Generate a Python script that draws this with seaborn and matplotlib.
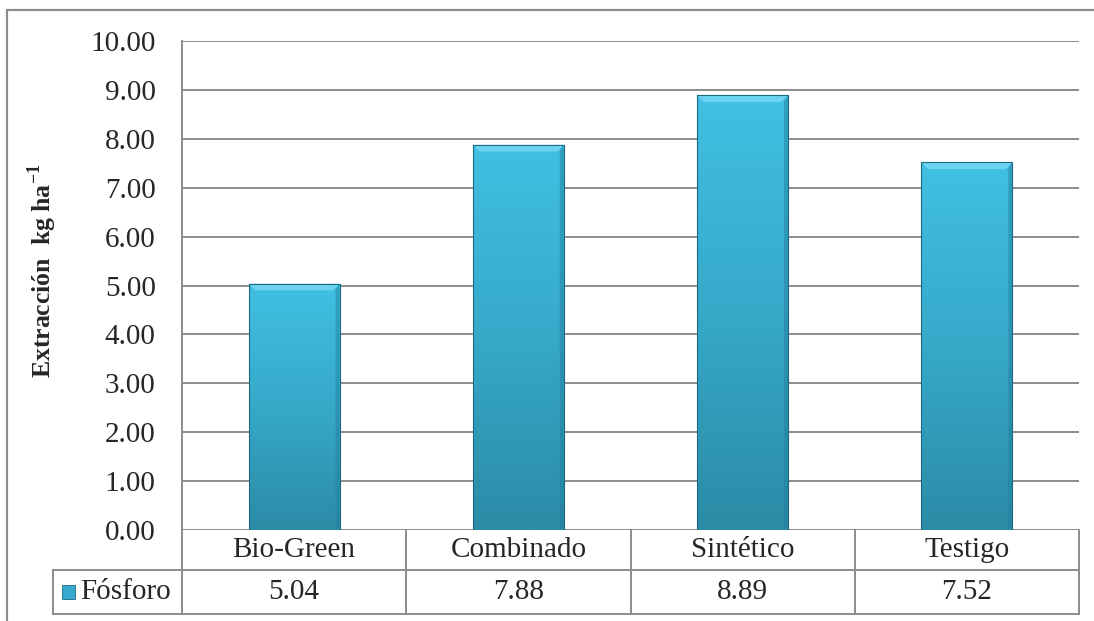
import numpy as np
import matplotlib
matplotlib.use("Agg")
import matplotlib.pyplot as plt
import matplotlib.transforms as mtransforms
from matplotlib.patches import Polygon, Rectangle
from matplotlib.colors import LinearSegmentedColormap
import seaborn as sns
import pandas as pd

# datos del grafico
categorias = ["Bio-Green", "Combinado", "Sintético", "Testigo"]
fosforo = [5.04, 7.88, 8.89, 7.52]
serie = "Fósforo"
y_ticks = [0, 1, 2, 3, 4, 5, 6, 7, 8, 9, 10]

sns.set_style("white")
plt.rcParams['font.family'] = ['Liberation Serif', 'DejaVu Serif']
plt.rcParams['mathtext.fontset'] = 'custom'
plt.rcParams['mathtext.rm'] = 'Liberation Serif'
plt.rcParams['mathtext.bf'] = 'Liberation Serif:bold'

GRIS = "#8c8c8c"
FS = 21

df = pd.DataFrame({"categoria": categorias, "valor": fosforo})

fig = plt.figure(figsize=(10.94, 6.21), dpi=100)
ax = fig.add_axes([182 / 1094, 1 - 530 / 621, (1079 - 182) / 1094, (530 - 41) / 621])

sns.barplot(data=df, x="categoria", y="valor", ax=ax, width=0.405,
            color="#3bb8da", edgecolor="#1d6a80", linewidth=0.8, zorder=3)

# degradado en las barras (estilo Excel)
cmap = LinearSegmentedColormap.from_list("barra", ["#2b8ba6", "#36a9c9", "#41c0e3"])
grad = np.linspace(0, 1, 256).reshape(-1, 1)
for p in ax.patches:
    x0, w, h = p.get_x(), p.get_width(), p.get_height()
    im = ax.imshow(grad, cmap=cmap, origin="lower", aspect="auto",
                   extent=[x0, x0 + w, 0, h], zorder=3.5)
    im.set_clip_path(p)
    # bisel superior
    dx, dy = 0.03, 0.14
    ax.add_patch(Polygon([[x0, h], [x0 + w, h], [x0 + w - dx, h - dy], [x0 + dx, h - dy]],
                         closed=True, facecolor="#7fdcf6", edgecolor="none", alpha=0.7, zorder=4))
    # borde derecho mas oscuro
    ax.add_patch(Polygon([[x0 + w, h], [x0 + w, 0], [x0 + w - dx * 0.6, dy * 0.5], [x0 + w - dx * 0.6, h - dy]],
                         closed=True, facecolor="#2580a0", edgecolor="none", alpha=0.5, zorder=4))
    p.set_facecolor("none")
    p.set_zorder(5)

ax.set_xlim(-0.5, 3.5)
ax.set_ylim(0, 10)
ax.set_yticks(y_ticks)
ax.set_yticklabels([f"{v:.2f}" for v in y_ticks], fontsize=FS)
ax.set_xticks([])
ax.set_xlabel("")
ax.tick_params(axis="y", length=0, pad=19)
ax.grid(axis="y", color=GRIS, linewidth=1.4, zorder=0)
ax.set_axisbelow(True)
for s in ["top", "right", "bottom"]:
    ax.spines[s].set_visible(False)
ax.spines["left"].set_color(GRIS)
ax.spines["left"].set_linewidth(1.4)

ax.set_ylabel("Extracción  kg ha$^{\\mathbf{-1}}$", fontsize=18.5, fontweight="bold")
ax.yaxis.set_label_coords(-0.137, 0.53)

# tabla de datos bajo el eje
tr = mtransforms.blended_transform_factory(ax.transData, ax.transAxes)
y_cat = -40 / 489
y_dat = -84 / 489
x_ley = (53 - 182) / 897
lk = dict(color=GRIS, linewidth=1.4, clip_on=False, zorder=1)
ax.plot([x_ley, 1], [y_cat, y_cat], transform=ax.transAxes, **lk)
ax.plot([x_ley, 1], [y_dat, y_dat], transform=ax.transAxes, **lk)
ax.plot([x_ley, x_ley], [y_cat, y_dat], transform=ax.transAxes, **lk)
ax.plot([0, 0], [0, y_dat], transform=ax.transAxes, **lk)
ax.plot([1, 1], [0, y_dat], transform=ax.transAxes, **lk)
for i in range(1, len(categorias)):
    ax.plot([i - 0.5, i - 0.5], [0, y_dat], transform=tr, **lk)
for i, (c, v) in enumerate(zip(categorias, fosforo)):
    ax.text(i, y_cat / 2, c, transform=tr, ha="center", va="center", fontsize=FS)
    ax.text(i, (y_cat + y_dat) / 2, f"{v:.2f}", transform=tr, ha="center", va="center", fontsize=FS)

# leyenda dentro de la tabla
ym = (y_cat + y_dat) / 2
ax.add_patch(Rectangle(((62 - 182) / 897, ym - 7 / 489), 13 / 897, 14 / 489,
                       transform=ax.transAxes, facecolor="#38acd0", edgecolor="#1d6a80",
                       linewidth=0.6, clip_on=False))
ax.text((80 - 182) / 897, ym, serie, transform=ax.transAxes, ha="left", va="center", fontsize=FS)

# marco exterior del grafico
fig.add_artist(plt.Line2D([7 / 1094, 1], [1 - 10 / 621, 1 - 10 / 621], color=GRIS, linewidth=1.6))
fig.add_artist(plt.Line2D([7 / 1094, 7 / 1094], [1 - 10 / 621, 0], color=GRIS, linewidth=1.6))

fig.savefig("out.png", dpi=100)
